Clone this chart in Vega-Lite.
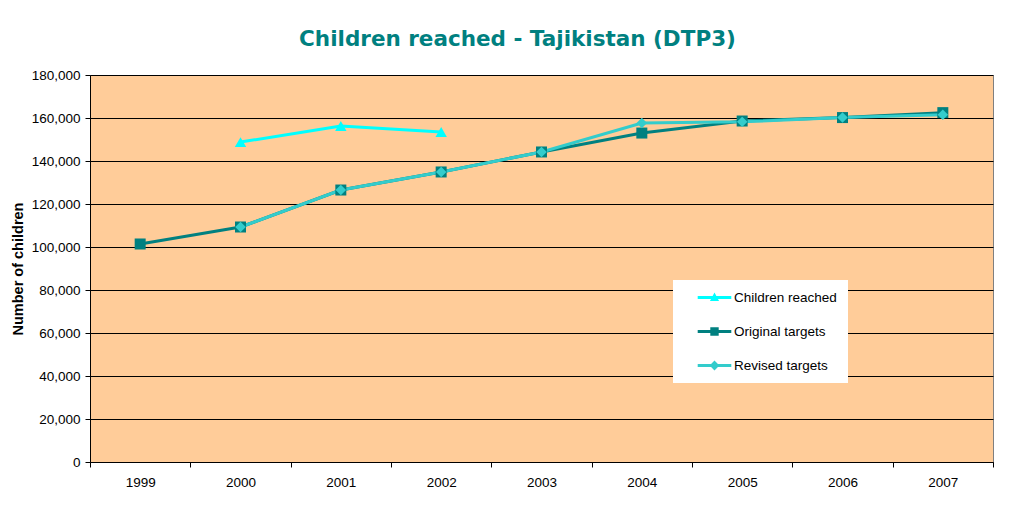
{
  "$schema": "https://vega.github.io/schema/vega-lite/v6.json",
  "width": 903,
  "height": 387,
  "autosize": {"type": "none"},
  "padding": {"left": 90, "top": 75, "right": 30, "bottom": 50},
  "background": "white",
  "title": {
    "text": "Children reached - Tajikistan (DTP3)",
    "font": "DejaVu Sans",
    "fontSize": 21.5,
    "fontWeight": "bold",
    "color": "#008080",
    "anchor": "middle",
    "frame": "group",
    "dx": -24,
    "offset": 18
  },
  "config": {
    "view": {"fill": "#FFCC99", "stroke": "#808080", "strokeWidth": 1},
    "axis": {
      "labelFont": "Liberation Sans",
      "labelFontSize": 13.5,
      "labelColor": "#000000",
      "titleFont": "Liberation Sans",
      "titleColor": "#000000",
      "domainColor": "#000000",
      "tickColor": "#000000",
      "tickSize": 5
    }
  },
  "data": {
    "values": [
      {"year": "2000", "series": "Children reached", "value": 148800},
      {"year": "2001", "series": "Children reached", "value": 156300},
      {"year": "2002", "series": "Children reached", "value": 153500},
      {"year": "1999", "series": "Original targets", "value": 101400},
      {"year": "2000", "series": "Original targets", "value": 109300},
      {"year": "2001", "series": "Original targets", "value": 126500},
      {"year": "2002", "series": "Original targets", "value": 134900},
      {"year": "2003", "series": "Original targets", "value": 144200},
      {"year": "2004", "series": "Original targets", "value": 153000},
      {"year": "2005", "series": "Original targets", "value": 158600},
      {"year": "2006", "series": "Original targets", "value": 160200},
      {"year": "2007", "series": "Original targets", "value": 162500},
      {"year": "2000", "series": "Revised targets", "value": 109300},
      {"year": "2001", "series": "Revised targets", "value": 126500},
      {"year": "2002", "series": "Revised targets", "value": 134900},
      {"year": "2003", "series": "Revised targets", "value": 144200},
      {"year": "2004", "series": "Revised targets", "value": 157700},
      {"year": "2005", "series": "Revised targets", "value": 158200},
      {"year": "2006", "series": "Revised targets", "value": 160200},
      {"year": "2007", "series": "Revised targets", "value": 161500}
    ]
  },
  "encoding": {
    "x": {
      "field": "year",
      "type": "ordinal",
      "bandPosition": 0.5,
      "scale": {"type": "band", "paddingInner": 0, "paddingOuter": 0, "domain": ["1999","2000","2001","2002","2003","2004","2005","2006","2007"]},
      "axis": {"title": null, "labelAngle": 0, "tickBand": "extent", "labelPadding": 8, "grid": false}
    },
    "y": {
      "field": "value",
      "type": "quantitative",
      "scale": {"domain": [0, 180000], "nice": false},
      "axis": {
        "title": "Number of children",
        "titleFontWeight": "bold",
        "titleFontSize": 14.5,
        "titlePadding": 6,
        "values": [0, 20000, 40000, 60000, 80000, 100000, 120000, 140000, 160000, 180000],
        "format": ",.0f",
        "labelPadding": 5,
        "grid": true,
        "gridColor": "#000000",
        "gridWidth": 1
      }
    },
    "color": {
      "field": "series",
      "type": "nominal",
      "scale": {"domain": ["Children reached", "Original targets", "Revised targets"], "range": ["#00FFFF", "#008080", "#33CCCC"]},
      "legend": {
        "title": null,
        "orient": "none",
        "legendX": 583,
        "legendY": 205,
        "fillColor": "#FFFFFF",
        "padding": 10.5,
        "symbolSize": 196,
        "symbolOffset": 24,
        "labelOffset": 12.5,
        "rowPadding": 20,
        "labelFont": "Liberation Sans",
        "labelFontSize": 13.5,
        "labelColor": "#000000",
        "encode": {
          "symbols": {
            "update": {
              "shape": {"signal": "datum.value == 'Children reached' ? 'M-2.4,-0.22H2.4V0.22H-2.4Z M0,-0.7L0.65,0.5H-0.65Z' : datum.value == 'Original targets' ? 'M-2.4,-0.22H2.4V0.22H-2.4Z M-0.6,-0.6H0.6V0.6H-0.6Z' : 'M-2.4,-0.22H2.4V0.22H-2.4Z M0,-0.7L0.7,0L0,0.7L-0.7,0Z'"},
              "fill": {"signal": "datum.value == 'Children reached' ? '#00FFFF' : datum.value == 'Original targets' ? '#008080' : '#33CCCC'"},
              "fillOpacity": {"value": 1},
              "strokeWidth": {"value": 0},
              "opacity": {"value": 1}
            }
          }
        }
      }
    }
  },
  "layer": [
    {
      "mark": {"type": "line", "strokeWidth": 3}
    },
    {
      "transform": [{"filter": "datum.series == 'Children reached'"}],
      "mark": {"type": "point", "filled": true, "opacity": 1, "shape": "triangle-up", "size": 130}
    },
    {
      "transform": [{"filter": "datum.series == 'Original targets'"}],
      "mark": {"type": "point", "filled": true, "opacity": 1, "shape": "square", "size": 121}
    },
    {
      "transform": [{"filter": "datum.series == 'Revised targets'"}],
      "mark": {"type": "point", "filled": true, "opacity": 1, "shape": "diamond", "size": 110}
    }
  ]
}
